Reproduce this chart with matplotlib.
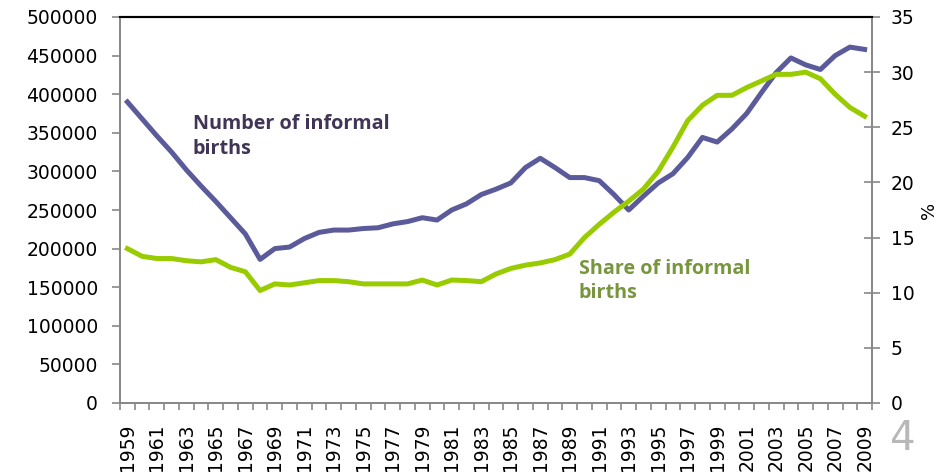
import matplotlib
matplotlib.use("Agg")
import matplotlib.pyplot as plt
import numpy as np

years = list(range(1959, 2010))
number_births = [390000, 368000, 346000, 325000, 302000, 281000, 261000, 240000, 219000, 186000,
                 200000, 202000, 213000, 221000, 224000, 224000, 226000, 227000, 232000, 235000,
                 240000, 237000, 250000, 258000, 270000, 277000, 285000, 305000, 317000, 305000,
                 292000, 292000, 288000, 270000, 250000, 268000, 285000, 297000, 318000, 344000,
                 338000, 355000, 375000, 402000, 428000, 447000, 438000, 432000, 450000, 461000,
                 458000]
share_births = [14.0, 13.3, 13.1, 13.1, 12.9, 12.8, 13.0, 12.3, 11.9, 10.2,
                10.8, 10.7, 10.9, 11.1, 11.1, 11.0, 10.8, 10.8, 10.8, 10.8,
                11.15, 10.7, 11.15, 11.1, 11.0, 11.7, 12.2, 12.5, 12.7, 13.0,
                13.5, 15.0, 16.2, 17.3, 18.3, 19.4, 21.0, 23.2, 25.6, 27.0,
                27.9, 27.9, 28.6, 29.2, 29.8, 29.8, 30.0, 29.4, 28.0, 26.8,
                26.0]

left_ticks = list(range(0, 500001, 50000))
right_ticks = list(range(0, 36, 5))
label_years = years[::2]

x = np.arange(len(years))

fig = plt.figure(figsize=(9.37, 4.72), dpi=100)
ax = fig.add_axes([120/937, 1-403/472, (872-120)/937, (403-17)/472])
ax2 = ax.twinx()

ax.plot(x, number_births, color="#5b5b9b", lw=3.6, solid_joinstyle="round", zorder=3)
ax2.plot(x, share_births, color="#99cc00", lw=3.6, solid_joinstyle="round", zorder=3)

ax.set_xlim(-0.5, len(years) - 0.5)
ax.set_ylim(0, 500000)
ax2.set_ylim(0, 35)

ax.set_yticks(left_ticks)
ax.set_yticklabels([str(v) for v in left_ticks])
ax2.set_yticks(right_ticks)
ax2.set_yticklabels([str(v) for v in right_ticks])

ax.set_xticks([x[years.index(y)] for y in label_years])
ax.set_xticklabels([str(y) for y in label_years], rotation=90)
ax.set_xticks(np.arange(-0.5, len(years), 1), minor=True)
ax.tick_params(axis="x", which="major", length=0, pad=15, labelsize=13.5, colors="black")
ax.tick_params(axis="x", which="minor", length=5, width=1.2, color="#888888", direction="out")
ax.tick_params(axis="y", length=6, width=1.2, color="#888888", direction="out", labelsize=13.5, pad=10)
ax2.tick_params(axis="y", length=11, width=1.2, color="#888888", direction="inout", labelsize=13.5, pad=8)

for a in (ax, ax2):
    a.spines["left"].set_color("#888888")
    a.spines["right"].set_color("#888888")
    a.spines["bottom"].set_color("#888888")
    a.spines["top"].set_color("black")
    for s in ("left", "right", "bottom"):
        a.spines[s].set_linewidth(1.3)
    a.spines["top"].set_linewidth(1.5)

ax2.set_ylabel("%", fontsize=13, rotation=90, labelpad=4)

fig.text(193/937, 1-114/472, "Number of informal\nbirths", fontsize=14.2, fontweight="bold",
         family="Open Sans", color="#403555", va="top", ha="left", linespacing=1.3)
fig.text(579/937, 1-259/472, "Share of informal\nbirths", fontsize=14.2, fontweight="bold",
         family="Open Sans", color="#77963d", va="top", ha="left", linespacing=1.3)
fig.text(903/937, 1-459/472, "4", fontsize=29, color="#b8b8b8", ha="center", va="bottom")

fig.savefig("out.png", dpi=100)
